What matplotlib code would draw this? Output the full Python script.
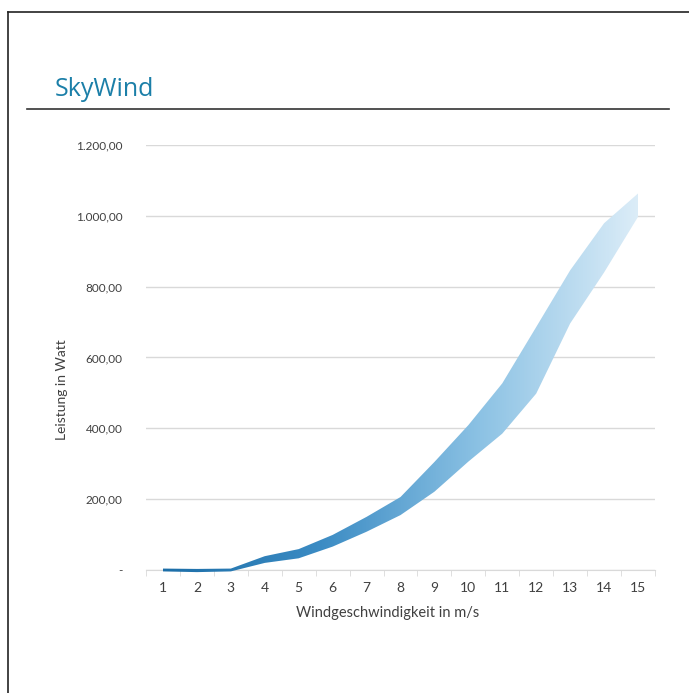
import numpy as np
import matplotlib.pyplot as plt
from matplotlib.colors import LinearSegmentedColormap
from matplotlib.lines import Line2D
from matplotlib.ticker import FuncFormatter, MultipleLocator

# Wind speed (m/s) and power band (W)
speed = [1, 2, 3, 4, 5, 6, 7, 8, 9, 10, 11, 12, 13, 14, 15]
power_low = [-4, -6, -4, 20, 33, 66, 108, 155, 221, 306, 385, 498, 696, 840, 997]
power_high = [4, 3, 4, 39, 59, 99, 150, 206, 305, 409, 527, 686, 846, 979, 1063]
y_ticks = [0, 200, 400, 600, 800, 1000, 1200]

plt.rcParams['font.family'] = ['Lato', 'DejaVu Sans']

fig = plt.figure(figsize=(6.89, 6.93), dpi=100)
ax = fig.add_axes([0.2119, 0.1775, 0.7387, 0.6133])

# band between min and max, filled with a horizontal gradient
band = ax.fill_between(speed, power_low, power_high, facecolor='none', edgecolor='none')
cmap = LinearSegmentedColormap.from_list('sky', ['#1c6ea8', '#3c8cc4', '#8cc2e4', '#dcedf8'])
grad = np.linspace(0, 1, 256).reshape(1, -1)
img = ax.imshow(grad, cmap=cmap, aspect='auto', extent=[speed[0], speed[-1], -10, 1070],
                origin='lower', zorder=3)
img.set_clip_path(band.get_paths()[0], transform=ax.transData)
img.set_clip_box(fig.bbox)  # let the thin start of the band sit over the axis line

ax.set_xlim(0.5, 15.5)
ax.set_ylim(0, 1200)
ax.set_xticks(speed)
ax.xaxis.set_minor_locator(MultipleLocator(1, offset=0.5))
ax.set_yticks(y_ticks)

def de_fmt(v, pos):
    if v == 0:
        return '-'
    s = '{:,.2f}'.format(v)
    return s.replace(',', 'X').replace('.', ',').replace('X', '.')

ax.yaxis.set_major_formatter(FuncFormatter(de_fmt))
ax.grid(axis='y', color='#d9d9d9', lw=1)
ax.set_axisbelow(True)
for s in ['top', 'right', 'left']:
    ax.spines[s].set_visible(False)
ax.spines['bottom'].set_color('#d9d9d9')
ax.tick_params(axis='y', length=0, pad=17, labelsize=8.5, labelcolor='#404040')
ax.tick_params(axis='x', which='major', length=0, pad=9, labelsize=10, labelcolor='#404040')
ax.tick_params(axis='x', which='minor', length=4, color='#d9d9d9')

ax.set_xlabel('Windgeschwindigkeit in m/s', fontsize=10.5, color='#404040')
ax.xaxis.set_label_coords(0.475, -0.085)
ax.set_ylabel('Leistung in Watt', fontsize=10, color='#404040')
ax.yaxis.set_label_coords(-0.153, 0.424)

# title, rule under it and the frame
fig.text(0.0798, 0.8615, 'SkyWind', fontsize=18, color='#1b7fa8', family=['Open Sans', 'DejaVu Sans'])
fig.add_artist(Line2D([0.039, 0.971], [0.8427, 0.8427], color='#333333', lw=1.2))
fig.add_artist(Line2D([0.0116, 0.0116], [0, 0.983], color='#222222', lw=1.2))
fig.add_artist(Line2D([0.0116, 1.0], [0.983, 0.983], color='#222222', lw=1.2))

fig.savefig('out.png', dpi=100)
